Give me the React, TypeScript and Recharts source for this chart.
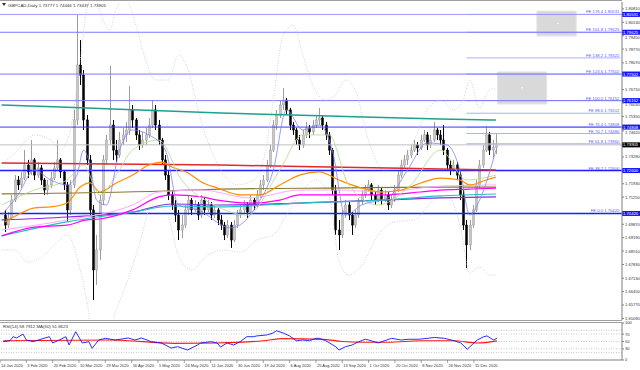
import React from "react";
import {
  Bar,
  ComposedChart,
  Line,
  ReferenceArea,
  ReferenceDot,
  ReferenceLine,
  XAxis,
  YAxis,
} from "recharts";

const SLOTS = 190;
const PRICE_MIN = 1.65008;
const PRICE_MAX = 1.81162;
const FONT = "'Liberation Sans', Arial, sans-serif";

// one bar every two sessions, [open, high, low, close], 14 Jan 2020 onwards
const candles: number[][] = [
  [1.7034, 1.706, 1.6948, 1.6983], [1.6983, 1.7049, 1.6968, 1.7019], [1.7019, 1.7136, 1.7009, 1.711],
  [1.711, 1.7237, 1.71, 1.7212], [1.7212, 1.7232, 1.7161, 1.7187], [1.7187, 1.7253, 1.7171, 1.7222],
  [1.7222, 1.7364, 1.7212, 1.7288], [1.7288, 1.7314, 1.7222, 1.7253], [1.7253, 1.7415, 1.7237, 1.7314],
  [1.7314, 1.7324, 1.7212, 1.7237], [1.7237, 1.7303, 1.7222, 1.7273], [1.7273, 1.7288, 1.7187, 1.7212],
  [1.7212, 1.7222, 1.7136, 1.7161], [1.7161, 1.7212, 1.7136, 1.7187], [1.7187, 1.7253, 1.7171, 1.7222],
  [1.7222, 1.7303, 1.7212, 1.7273], [1.7273, 1.7415, 1.7263, 1.7314], [1.7314, 1.7324, 1.7222, 1.7253],
  [1.7253, 1.7263, 1.7161, 1.7187], [1.7187, 1.7202, 1.6999, 1.706], [1.706, 1.7212, 1.7034, 1.7187],
  [1.7187, 1.7568, 1.7171, 1.7517], [1.7517, 1.805, 1.7491, 1.7796], [1.7796, 1.7923, 1.7695, 1.7745],
  [1.7745, 1.7771, 1.7466, 1.7517], [1.7517, 1.7542, 1.7288, 1.7314], [1.7314, 1.7339, 1.7034, 1.706],
  [1.706, 1.7085, 1.6602, 1.6755], [1.6755, 1.6933, 1.6679, 1.6856], [1.6856, 1.7136, 1.6806, 1.711],
  [1.711, 1.7339, 1.7085, 1.7314], [1.7314, 1.7441, 1.7288, 1.7415], [1.7415, 1.7791, 1.739, 1.7491],
  [1.7491, 1.7517, 1.7314, 1.7364], [1.7364, 1.7415, 1.7303, 1.7339], [1.7339, 1.7456, 1.7324, 1.7415],
  [1.7415, 1.7476, 1.739, 1.7441], [1.7441, 1.7507, 1.7405, 1.7466], [1.7466, 1.769, 1.7441, 1.7568],
  [1.7568, 1.7593, 1.7476, 1.7517], [1.7517, 1.7527, 1.7415, 1.7441], [1.7441, 1.7466, 1.7364, 1.739],
  [1.739, 1.7456, 1.7375, 1.7415], [1.7415, 1.7476, 1.739, 1.7441], [1.7441, 1.7527, 1.7425, 1.7491],
  [1.7491, 1.7618, 1.7476, 1.7568], [1.7568, 1.7593, 1.7466, 1.7491], [1.7491, 1.7517, 1.739, 1.7415],
  [1.7415, 1.7425, 1.7288, 1.7314], [1.7314, 1.7339, 1.7212, 1.7237], [1.7237, 1.7263, 1.711, 1.7136],
  [1.7136, 1.7161, 1.706, 1.7085], [1.7085, 1.711, 1.6999, 1.7034], [1.7034, 1.706, 1.6907, 1.6958],
  [1.6958, 1.7034, 1.6917, 1.6983], [1.6983, 1.7085, 1.6968, 1.706], [1.706, 1.7136, 1.7034, 1.711],
  [1.711, 1.7121, 1.7034, 1.706], [1.706, 1.711, 1.7049, 1.7085], [1.7085, 1.71, 1.7009, 1.7034],
  [1.7034, 1.7136, 1.7019, 1.711], [1.711, 1.7121, 1.7034, 1.706], [1.706, 1.711, 1.7049, 1.7085],
  [1.7085, 1.71, 1.7009, 1.7034], [1.7034, 1.7085, 1.7019, 1.706], [1.706, 1.707, 1.6983, 1.7009],
  [1.7009, 1.7034, 1.6958, 1.6983], [1.6983, 1.6999, 1.6907, 1.6933], [1.6933, 1.7009, 1.6917, 1.6983],
  [1.6983, 1.6999, 1.6867, 1.6907], [1.6907, 1.7009, 1.6897, 1.6983], [1.6983, 1.706, 1.6968, 1.7034],
  [1.7034, 1.7085, 1.7019, 1.706], [1.706, 1.711, 1.7039, 1.7085], [1.7085, 1.71, 1.7019, 1.7049],
  [1.7049, 1.7136, 1.7034, 1.711], [1.711, 1.7121, 1.706, 1.7085], [1.7085, 1.7161, 1.707, 1.7136],
  [1.7136, 1.7212, 1.7121, 1.7187], [1.7187, 1.7237, 1.7161, 1.7212], [1.7212, 1.7314, 1.7202, 1.7288],
  [1.7288, 1.739, 1.7273, 1.7364], [1.7364, 1.7517, 1.7354, 1.7491], [1.7491, 1.7568, 1.7466, 1.7542],
  [1.7542, 1.7618, 1.7527, 1.7593], [1.7593, 1.7679, 1.7568, 1.7618], [1.7618, 1.7629, 1.7542, 1.7568],
  [1.7568, 1.7578, 1.7466, 1.7491], [1.7491, 1.7507, 1.7441, 1.7466], [1.7466, 1.7476, 1.739, 1.7415],
  [1.7415, 1.7441, 1.7364, 1.739], [1.739, 1.7466, 1.7375, 1.7441], [1.7441, 1.7507, 1.7425, 1.7476],
  [1.7476, 1.7491, 1.7425, 1.7456], [1.7456, 1.7517, 1.7441, 1.7491], [1.7491, 1.7542, 1.7476, 1.7517],
  [1.7517, 1.7578, 1.7491, 1.7527], [1.7527, 1.7542, 1.7466, 1.7491], [1.7491, 1.7507, 1.7415, 1.7441],
  [1.7441, 1.7456, 1.7339, 1.7364], [1.7364, 1.7375, 1.7136, 1.7161], [1.7161, 1.7187, 1.6933, 1.6958],
  [1.6958, 1.7009, 1.6856, 1.6933], [1.6933, 1.706, 1.6917, 1.7034], [1.7034, 1.711, 1.7019, 1.7085],
  [1.7085, 1.71, 1.7009, 1.7034], [1.7034, 1.7049, 1.6933, 1.6983], [1.6983, 1.706, 1.6968, 1.7034],
  [1.7034, 1.7121, 1.7019, 1.711], [1.711, 1.7161, 1.7085, 1.7136], [1.7136, 1.7187, 1.7121, 1.7161],
  [1.7161, 1.7212, 1.7151, 1.7187], [1.7187, 1.7197, 1.711, 1.7136], [1.7136, 1.7151, 1.7085, 1.711],
  [1.711, 1.7187, 1.71, 1.7161], [1.7161, 1.7171, 1.7085, 1.711], [1.711, 1.7161, 1.71, 1.7136],
  [1.7136, 1.7151, 1.706, 1.7085], [1.7085, 1.7136, 1.707, 1.711], [1.711, 1.7187, 1.71, 1.7161],
  [1.7161, 1.7263, 1.7151, 1.7237], [1.7237, 1.7314, 1.7222, 1.7288], [1.7288, 1.7339, 1.7273, 1.7314],
  [1.7314, 1.7364, 1.7288, 1.7339], [1.7339, 1.739, 1.7324, 1.7364], [1.7364, 1.7415, 1.7354, 1.739],
  [1.739, 1.7405, 1.7339, 1.7375], [1.7375, 1.7441, 1.7364, 1.7415], [1.7415, 1.7466, 1.7405, 1.7441],
  [1.7441, 1.7456, 1.7364, 1.739], [1.739, 1.7441, 1.7375, 1.7415], [1.7415, 1.7507, 1.7405, 1.7466],
  [1.7466, 1.7476, 1.7415, 1.7441], [1.7441, 1.7466, 1.739, 1.7415], [1.7415, 1.7491, 1.7339, 1.7364],
  [1.7364, 1.7375, 1.7263, 1.7288], [1.7288, 1.7314, 1.7237, 1.7263], [1.7263, 1.7314, 1.7253, 1.7288],
  [1.7288, 1.7303, 1.7212, 1.7237], [1.7237, 1.7263, 1.711, 1.7136], [1.7136, 1.7161, 1.6958, 1.6983],
  [1.6983, 1.7009, 1.6765, 1.6882], [1.6882, 1.7009, 1.6856, 1.6983], [1.6983, 1.7085, 1.6968, 1.706],
  [1.706, 1.7212, 1.7049, 1.7187], [1.7187, 1.7314, 1.7171, 1.7288], [1.7288, 1.739, 1.7273, 1.7364],
  [1.7364, 1.7486, 1.7354, 1.7441], [1.7441, 1.7456, 1.7339, 1.7364], [1.7364, 1.7415, 1.7324, 1.7378],
  [1.7378, 1.7445, 1.7344, 1.7391],
];

const maRed = [[0, 1.7298], [67, 1.7288], [100, 1.7278], [134, 1.7268], [151, 1.7263]];
const maTeal = [[0, 1.7593], [18, 1.7583], [67, 1.7552], [100, 1.7537], [134, 1.7522], [151, 1.7517]];
const maOlive = [[0, 1.7141], [50, 1.7156], [67, 1.7166], [100, 1.7171], [134, 1.7176], [151, 1.7176]];
const maOrange = [
  [1, 1.6999], [6, 1.7044], [10, 1.707], [15, 1.7075], [20, 1.7095], [24, 1.7176], [27, 1.7197],
  [30, 1.7151], [35, 1.7197], [40, 1.7237], [45, 1.7288], [49, 1.7303], [52, 1.7278], [57, 1.7248],
  [61, 1.7202], [66, 1.7171], [73, 1.7136], [79, 1.7136], [85, 1.7187], [91, 1.7237], [97, 1.7253],
  [103, 1.7212], [110, 1.7171], [116, 1.7151], [122, 1.7161], [128, 1.7197], [134, 1.7222],
  [140, 1.7212], [143, 1.7187], [148, 1.7212], [151, 1.7227],
];
const maMagenta = [
  [0, 1.6928], [10, 1.6973], [20, 1.6983], [26, 1.7009], [30, 1.7014], [40, 1.706], [48, 1.7126],
  [52, 1.7136], [61, 1.7126], [66, 1.711], [76, 1.7095], [85, 1.711], [91, 1.7136], [103, 1.7136],
  [116, 1.7136], [128, 1.7151], [134, 1.7161], [143, 1.7166], [151, 1.7171],
];
const maPink = [
  [0, 1.6958], [20, 1.7009], [40, 1.7085], [48, 1.7151], [61, 1.7161], [76, 1.7121], [91, 1.7161],
  [103, 1.7161], [116, 1.7151], [134, 1.7181], [151, 1.7187],
];
const maCyan = [
  [0, 1.6928], [20, 1.6999], [40, 1.7049], [52, 1.708], [66, 1.7075], [91, 1.7095], [116, 1.711],
  [134, 1.7131], [151, 1.7141],
];
const maPurple = [
  [0, 1.7009], [20, 1.7024], [40, 1.7049], [52, 1.709], [66, 1.7085], [91, 1.7095], [116, 1.711],
  [134, 1.7121], [151, 1.7126],
];
const maGreen = [
  [0, 1.7085], [10, 1.7161], [20, 1.7212], [25, 1.7288], [30, 1.7136], [35, 1.7237], [40, 1.7364],
  [48, 1.7415], [55, 1.7212], [65, 1.7085], [75, 1.7034], [85, 1.7263], [92, 1.7441], [100, 1.7441],
  [106, 1.7187], [115, 1.7085], [125, 1.7187], [134, 1.7364], [142, 1.7212], [151, 1.7237],
];
const maBlue = [
  [0, 1.7034], [5, 1.7136], [10, 1.7263], [15, 1.7212], [20, 1.7187], [23, 1.7237], [25, 1.7364],
  [27, 1.7288], [29, 1.711], [32, 1.7085], [36, 1.7364], [40, 1.7466], [45, 1.7441], [50, 1.7364],
  [54, 1.7085], [60, 1.706], [70, 1.6968], [78, 1.7085], [83, 1.7263], [87, 1.7568], [92, 1.7466],
  [97, 1.7491], [101, 1.7364], [105, 1.7034], [110, 1.7085], [118, 1.7121], [124, 1.7263],
  [130, 1.74], [136, 1.739], [140, 1.7263], [143, 1.7034], [146, 1.711], [151, 1.7364],
];
const bandUpper = [
  [0, 1.7288], [5, 1.7364], [10, 1.7441], [15, 1.7415], [18, 1.7364], [21, 1.7466], [24, 1.7822],
  [26, 1.8076], [28, 1.8152], [31, 1.8025], [33, 1.7974], [35, 1.8076], [37, 1.8137], [39, 1.8101],
  [41, 1.7999], [44, 1.7822], [47, 1.772], [51, 1.772], [54, 1.7847], [57, 1.7771], [60, 1.7568],
  [64, 1.7364], [68, 1.7237], [72, 1.7187], [77, 1.7212], [80, 1.7314], [83, 1.7618], [86, 1.7949],
  [89, 1.7999], [92, 1.7847], [95, 1.7695], [99, 1.7618], [102, 1.7644], [105, 1.772], [108, 1.7669],
  [112, 1.7415], [117, 1.7263], [122, 1.7288], [126, 1.7415], [130, 1.7568], [134, 1.7618],
  [138, 1.7568], [141, 1.7618], [143, 1.772], [146, 1.7578], [149, 1.7669], [151, 1.7679],
];
const bandLower = [
  [0, 1.6856], [4, 1.6856], [8, 1.6795], [12, 1.6816], [16, 1.6882], [20, 1.6933], [24, 1.6755],
  [26, 1.6602], [28, 1.6399], [31, 1.6374], [35, 1.6552], [38, 1.6679], [42, 1.6882], [46, 1.7085],
  [50, 1.706], [54, 1.6831], [58, 1.6755], [63, 1.6831], [68, 1.6856], [73, 1.6846], [78, 1.6907],
  [83, 1.6933], [87, 1.7034], [91, 1.7136], [96, 1.7212], [100, 1.7136], [103, 1.6806], [106, 1.6729],
  [110, 1.678], [115, 1.6933], [120, 1.6999], [126, 1.7009], [132, 1.711], [136, 1.7136],
  [140, 1.6983], [143, 1.674], [146, 1.677], [149, 1.6729], [151, 1.6729],
];

const rsiValues = [
  [1, 49.5], [3, 52], [4, 63], [5, 59.5], [7, 70], [8, 54], [10, 49.5], [15, 63], [16, 46], [18, 54],
  [20, 63], [21, 40.5], [23, 76.5], [25, 46], [27, 49.5], [28, 31.6], [30, 54], [32, 58.6], [35, 54],
  [39, 59.5], [41, 54], [43, 59.5], [46, 49.5], [49, 46], [52, 32.4], [54, 36], [57, 27], [60, 40.5],
  [61, 46], [64, 49.5], [66, 46], [67, 35], [69, 46], [71, 40.5], [73, 49.5], [75, 63], [77, 63],
  [78, 65], [81, 67.6], [83, 73], [84, 79], [86, 73], [88, 65], [90, 52], [92, 54], [94, 52],
  [96, 58.6], [97, 58.6], [99, 52], [102, 36], [103, 27], [105, 36], [107, 40.5], [109, 49.5],
  [111, 56], [112, 54], [115, 46], [116, 49.5], [119, 58.6], [122, 54], [124, 56], [127, 56],
  [130, 58.6], [132, 61], [135, 58.6], [138, 52], [140, 46], [142, 29], [144, 46], [145, 54],
  [147, 63], [148, 65], [150, 54], [151, 58.8],
];
const rsiMa = [
  [1, 52], [34, 54], [53, 45], [66, 46], [80, 52], [86, 58], [98, 56], [104, 50], [110, 48],
  [118, 48], [128, 52], [138, 52], [145, 46], [151, 51.9],
];

const priceTicks = [
  1.8081, 1.8013, 1.7945, 1.7877, 1.7807, 1.7671, 1.7603, 1.7535, 1.7462, 1.7329, 1.7193, 1.7125,
  1.6987, 1.6919, 1.6851, 1.6783, 1.6713, 1.6645, 1.6577, 1.6509,
];
const rsiTicks = [100, 70, 50, 30, 0];
const rsiLevels = [80, 70, 50, 30, 20];

const dateLabels = [
  "14 Jan 2020", "3 Feb 2020", "20 Feb 2020", "10 Mar 2020", "29 Mar 2020", "16 Apr 2020",
  "5 May 2020", "24 May 2020", "11 Jun 2020", "30 Jun 2020", "19 Jul 2020", "6 Aug 2020",
  "25 Aug 2020", "13 Sep 2020", "1 Oct 2020", "20 Oct 2020", "8 Nov 2020", "26 Nov 2020",
  "15 Dec 2020",
];
const dateRows = dateLabels.map((_, k) => k * 8);

const fibNames = [
  "FE 0.0", "FE 38.2", "FE 61.8", "FE 70.7", "FE 76.4", "FE 88.6", "FE 100.0", "FE 123.6",
  "FE 138.2", "FE 161.8", "FE 176.4",
];
const fibValues = [
  1.7042, 1.726, 1.7396, 1.7448, 1.74808, 1.75512, 1.76152, 1.77502, 1.78322, 1.79625, 1.80531,
];
const hLines = [1.7042, 1.726, 1.74808, 1.76152, 1.77502, 1.79625, 1.80531];
const hLineColors = ["#1e1eff", "#1e1eff", "#3a3aff", "#7a7aff", "#7a7aff", "#7a7aff", "#9c9cff"];
const bid = 1.73905;

type Row = Record<string, number | undefined> & { i: number };

const rows: Row[] = Array.from({ length: SLOTS }, (_, i) => ({ i }));
candles.forEach(([o, h, l, c], k) => Object.assign(rows[k + 1], { o, h, l, c }));
const put = (key: string, pts: number[][]) => pts.forEach(([i, v]) => (rows[i][key] = v));
put("red", maRed);
put("teal", maTeal);
put("olive", maOlive);
put("orange", maOrange);
put("magenta", maMagenta);
put("pink", maPink);
put("cyan", maCyan);
put("purple", maPurple);
put("green", maGreen);
put("blue", maBlue);
put("up", bandUpper);
put("low", bandLower);
put("rsi", rsiValues);
put("rsiMa", rsiMa);

function Candle(props: any) {
  const { x, y, width, height, payload } = props;
  if (!payload || payload.h == null) return null;
  const top = Math.min(y, y + height);
  const span = Math.abs(height);
  const k = span / (payload.h - payload.l || 1);
  const yo = top + (payload.h - payload.o) * k;
  const yc = top + (payload.h - payload.c) * k;
  const up = payload.c >= payload.o;
  const cx = Math.round(x + width / 2) + 0.5;
  const col = up ? "#9c9c9c" : "#000";
  return (
    <g>
      <line x1={cx} x2={cx} y1={top} y2={top + span} stroke={col} strokeWidth={1} />
      <rect
        x={cx - 1}
        y={Math.min(yo, yc)}
        width={2}
        height={Math.max(1, Math.abs(yc - yo))}
        fill={up ? "#c8c8c8" : "#000"}
        stroke={col}
        strokeWidth={0.5}
      />
    </g>
  );
}

// price labels sitting just under a highlighted box get pushed down a little
function PriceTick({ x, y, payload }: any) {
  const v = payload.value as number;
  const boxAbove = hLines.some((h) => h > v && h - v < 0.0025);
  return (
    <text x={x} y={y + 1.5 + (boxAbove ? 1.6 : 0)} fontSize={4.1} fill="#333" fontFamily={FONT}>
      {v.toFixed(5)}
    </text>
  );
}

function AxisBox({ viewBox, text, fill }: any) {
  const { x, y, width } = viewBox;
  return (
    <g>
      <rect x={x + width} y={y - 2.5} width={18} height={5} fill={fill} />
      <text x={x + width + 1} y={y + 1.5} fontSize={4.2} fill="#fff" fontFamily={FONT}>
        {text}
      </text>
    </g>
  );
}

function FibText({ viewBox, text }: any) {
  const { x, y, width } = viewBox;
  return (
    <text x={x + width - 1} y={y - 1} fontSize={4.2} fill="#5a5aff" textAnchor="end" fontFamily={FONT}>
      {text}
    </text>
  );
}

function DateTick({ x, y, payload }: any) {
  const label = dateLabels[dateRows.indexOf(payload.value)];
  return (
    <g>
      <line x1={x} x2={x} y1={y} y2={y + 3} stroke="#666" strokeWidth={0.6} />
      <text x={x + 1} y={y + 6.5} fontSize={4} fill="#333" fontFamily={FONT}>
        {label}
      </text>
    </g>
  );
}

const lineProps = {
  type: "monotone" as const,
  dot: false,
  connectNulls: true,
  isAnimationActive: false,
  activeDot: false,
};

export default function App() {
  return (
    <div style={{ position: "relative", width: 640, height: 370, background: "#fff", fontFamily: FONT }}>
      <style>{"body{margin:0}"}</style>
      <ComposedChart width={640} height={320} data={rows} margin={{ top: 2, right: 0, bottom: 0, left: 0 }}>
        <XAxis dataKey="i" hide />
        <YAxis
          orientation="right"
          width={18}
          domain={[PRICE_MIN, PRICE_MAX]}
          allowDataOverflow
          ticks={priceTicks}
          interval={0}
          tickSize={2}
          tickMargin={1}
          tick={<PriceTick />}
          axisLine={{ stroke: "#808080" }}
          tickLine={{ stroke: "#808080" }}
        />
        <ReferenceArea x1={164} x2={175} y1={1.7944} y2={1.807} fill="#d9d9d9" fillOpacity={1} stroke="#e4e4e4" />
        <ReferenceArea x1={152} x2={166} y1={1.7598} y2={1.7761} fill="#d9d9d9" fillOpacity={1} stroke="#e4e4e4" />
        <ReferenceDot x={170} y={1.8007} r={0.8} fill="#fff" stroke="none" />
        <ReferenceDot x={159} y={1.768} r={0.8} fill="#fff" stroke="none" />
        <ReferenceLine
          y={bid}
          stroke="#c0c0c0"
          strokeWidth={1}
          label={(p: any) => <AxisBox {...p} text={bid.toFixed(5)} fill="#000" />}
        />
        {fibValues.map((v, k) => (
          <ReferenceLine
            key={"fe" + k}
            segment={[{ x: 142, y: v }, { x: SLOTS - 1, y: v }]}
            stroke="#aab0ff"
            strokeWidth={1}
            label={(p: any) => <FibText {...p} text={`${fibNames[k]} ${v.toFixed(5)}`} />}
          />
        ))}
        {hLines.map((v, k) => (
          <ReferenceLine
            key={"h" + k}
            y={v}
            stroke={hLineColors[k]}
            strokeWidth={k < 2 ? 1.4 : 1}
            label={(p: any) => <AxisBox {...p} text={v.toFixed(5)} fill="#1414ff" />}
          />
        ))}
        <Line dataKey="up" stroke="#c6c6c6" strokeWidth={0.8} strokeDasharray="1 1.5" {...lineProps} />
        <Line dataKey="low" stroke="#c6c6c6" strokeWidth={0.8} strokeDasharray="1 1.5" {...lineProps} />
        <Line dataKey="teal" stroke="#1ba28c" strokeWidth={1.5} {...lineProps} />
        <Line dataKey="red" stroke="#e02a2a" strokeWidth={1.5} {...lineProps} />
        <Line dataKey="olive" stroke="#857a2c" strokeWidth={1.2} {...lineProps} />
        <Line dataKey="purple" stroke="#8a2be2" strokeWidth={1.2} {...lineProps} />
        <Line dataKey="cyan" stroke="#22c2c2" strokeWidth={1.2} {...lineProps} />
        <Line dataKey="pink" stroke="#ffa8ff" strokeWidth={1} {...lineProps} />
        <Line dataKey="magenta" stroke="#ff00ff" strokeWidth={1.2} {...lineProps} />
        <Line dataKey="orange" stroke="#ff8c00" strokeWidth={1.2} {...lineProps} />
        <Line dataKey="green" stroke="#b8dc98" strokeWidth={0.9} {...lineProps} />
        <Line dataKey="blue" stroke="#8080ff" strokeWidth={0.8} {...lineProps} />
        <Bar
          dataKey={(d: Row) => (d.h == null ? undefined : [d.l, d.h])}
          barSize={3}
          shape={<Candle />}
          isAnimationActive={false}
        />
      </ComposedChart>
      <ComposedChart width={640} height={50} data={rows} margin={{ top: 3, right: 0, bottom: 0, left: 0 }}>
        <XAxis
          dataKey="i"
          height={10}
          ticks={dateRows}
          interval={0}
          tickSize={0}
          tickMargin={0}
          tick={<DateTick />}
          tickLine={false}
          axisLine={{ stroke: "#808080" }}
        />
        <YAxis
          orientation="right"
          width={18}
          domain={[0, 100]}
          ticks={rsiTicks}
          interval={0}
          tickSize={2}
          tickMargin={1}
          tick={{ fontSize: 4.1, fill: "#333", fontFamily: FONT, textAnchor: "start" }}
          axisLine={{ stroke: "#808080" }}
          tickLine={{ stroke: "#808080" }}
        />
        {rsiLevels.map((v) => (
          <ReferenceLine key={v} y={v} stroke="#b0b0b0" strokeDasharray="1 1.5" strokeWidth={0.7} />
        ))}
        <Line dataKey="rsiMa" stroke="#ff1a1a" strokeWidth={1.2} {...lineProps} />
        <Line dataKey="rsi" stroke="#1414ff" strokeWidth={0.9} {...lineProps} type="linear" />
      </ComposedChart>
      <svg width={640} height={370} style={{ position: "absolute", left: 0, top: 0, pointerEvents: "none" }}>
        <line x1={0} x2={622} y1={0.5} y2={0.5} stroke="#a0a0a0" />
        <line x1={0} x2={622} y1={320.5} y2={320.5} stroke="#a0a0a0" />
        <line x1={0} x2={622} y1={322.5} y2={322.5} stroke="#a0a0a0" />
        <path d="M2,3 L6,3 L4,6 Z" fill="#333" />
        <text x={8} y={6.5} fontSize={4.4} fill="#333" fontFamily={FONT}>
          GBPCAD,Daily  1.73777 1.74446 1.73437 1.73905
        </text>
        <text x={3} y={328} fontSize={4.4} fill="#333" fontFamily={FONT}>
          RSI(14) 58.7912  MA(50) 51.8623
        </text>
      </svg>
    </div>
  );
}
